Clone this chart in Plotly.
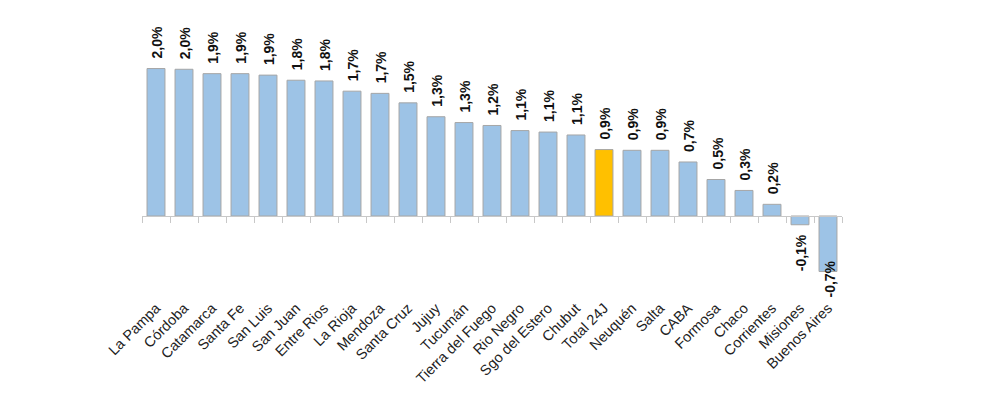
import plotly.graph_objects as go

categories = ["La Pampa", "Córdoba", "Catamarca", "Santa Fe", "San Luis", "San Juan",
              "Entre Rios", "La Rioja", "Mendoza", "Santa Cruz", "Jujuy", "Tucumán",
              "Tierra del Fuego", "Rio Negro", "Sgo del Estero", "Chubut", "Total 24J",
              "Neuquén", "Salta", "CABA", "Formosa", "Chaco", "Corrientes", "Misiones",
              "Buenos Aires"]
values = [2.02, 2.01, 1.95, 1.95, 1.93, 1.86, 1.85, 1.71, 1.68, 1.55, 1.36, 1.28,
          1.24, 1.17, 1.15, 1.11, 0.91, 0.90, 0.90, 0.74, 0.50, 0.35, 0.16, -0.12, -0.76]
value_labels = ["2,0%", "2,0%", "1,9%", "1,9%", "1,9%", "1,8%", "1,8%", "1,7%", "1,7%",
                "1,5%", "1,3%", "1,3%", "1,2%", "1,1%", "1,1%", "1,1%", "0,9%", "0,9%",
                "0,9%", "0,7%", "0,5%", "0,3%", "0,2%", "-0,1%", "-0,7%"]
highlight = "Total 24J"

BLUE = "#9dc3e6"
ORANGE = "#ffc000"
colors = [ORANGE if c == highlight else BLUE for c in categories]

y_min, y_max = -1.096, 2.548
zero_pos = (0 - y_min) / (y_max - y_min)
PLOT_H = 397 - 22 - 109
px_per_unit = PLOT_H / (y_max - y_min)
LABEL_GAP = 8
LABEL_LEN = 36

fig = go.Figure()
fig.add_trace(go.Bar(
    x=categories, y=values, xaxis="x", yaxis="y",
    marker=dict(color=colors, line=dict(color="#a6a6a6", width=1)),
    width=0.64, hoverinfo="x+y",
))
# invisible trace on the label axis
fig.add_trace(go.Scatter(
    x=categories, y=values, xaxis="x2", yaxis="y", mode="markers",
    marker=dict(opacity=0), hoverinfo="skip", showlegend=False,
))

label_font = dict(family="Liberation Sans, Arial", size=14, color="#111111", weight="bold")
for c, v, lab in zip(categories, values, value_labels):
    if v >= 0:
        fig.add_annotation(x=c, y=v, xref="x", yref="y", text=lab, showarrow=False,
                           textangle=-90, xanchor="center", yanchor="bottom",
                           yshift=LABEL_GAP, xshift=1, font=label_font)
    elif v - (LABEL_GAP + LABEL_LEN) / px_per_unit >= y_min:
        fig.add_annotation(x=c, y=v, xref="x", yref="y", text=lab, showarrow=False,
                           textangle=-90, xanchor="center", yanchor="top",
                           yshift=-LABEL_GAP, xshift=1, font=label_font)
    else:
        # keep label inside the plot area (like the original, it overlaps the bar end)
        fig.add_annotation(x=c, y=y_min, xref="x", yref="y", text=lab, showarrow=False,
                           textangle=-90, xanchor="center", yanchor="bottom",
                           yshift=-4, xshift=1, font=label_font)

fig.update_layout(
    width=1000, height=397,
    margin=dict(l=134, r=166, t=22, b=109),
    paper_bgcolor="white", plot_bgcolor="white",
    showlegend=False,
    xaxis=dict(
        type="category", anchor="free", position=zero_pos,
        showline=True, linecolor="#c8c8c8", linewidth=1,
        ticks="outside", ticklen=6, tickcolor="#c8c8c8", tickson="boundaries",
        showticklabels=False, showgrid=False, zeroline=False,
        range=[-0.5, len(categories) - 0.5],
    ),
    xaxis2=dict(
        type="category", overlaying="x", anchor="y", side="bottom",
        showline=False, ticks="", showgrid=False, zeroline=False,
        tickangle=-45,
        tickfont=dict(family="Liberation Sans, Arial", size=14.5, color="#222222"),
        range=[-0.5, len(categories) - 0.5],
    ),
    yaxis=dict(
        range=[y_min, y_max], visible=False, showgrid=False, zeroline=False,
    ),
)

fig.write_html("out.html")
